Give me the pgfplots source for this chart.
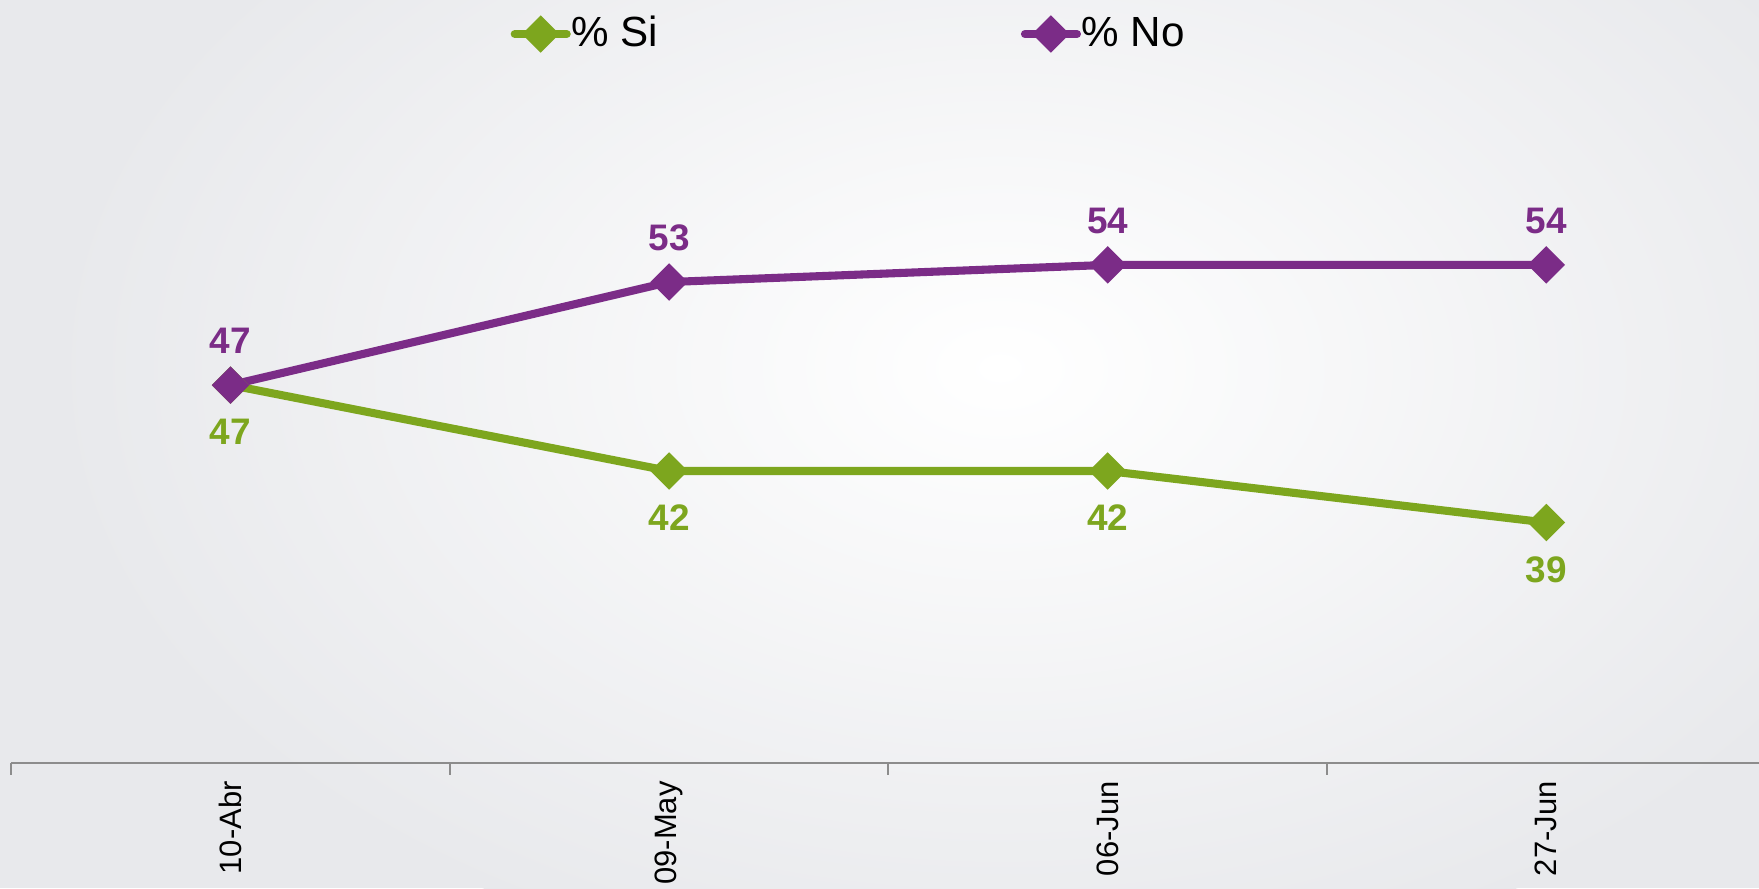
\documentclass[border=0pt]{standalone}
\usepackage{fontspec}
\setmainfont{Liberation Sans}
\usepackage{pgfplots}
\pgfplotsset{compat=1.18}
\definecolor{cSi}{HTML}{7DA61E}
\definecolor{cNo}{HTML}{7B2C87}
\definecolor{cBg}{HTML}{E8E9EC}
\definecolor{cAx}{HTML}{8C8C8C}
\begin{document}
\begin{tikzpicture}
% background with light radial glow
\fill[cBg] (0,0) rectangle (17.59cm,8.88cm);
\shade[inner color=white,outer color=cBg] (10.0cm,5.2cm) ellipse (9.5cm and 6.2cm);
\begin{axis}[
    at={(0.112cm,1.25cm)},anchor=south west,
    scale only axis,width=17.544cm,height=7.63cm,
    xmin=-0.5,xmax=3.5,ymin=25,ymax=69.42,
    axis x line*=bottom,axis y line=none,
    axis line style={cAx,line width=0.6pt},
    xtick={0,1,2,3},
    xticklabels={10-Abr,09-May,06-Jun,27-Jun},
    major tick length=0pt,
    xticklabel style={rotate=90,anchor=east,font=\fontsize{8.8}{10}\selectfont},
    xticklabel shift=0.6mm,
    extra x ticks={-0.5,0.5,1.5,2.5,3.5},
    extra x tick labels={},
    extra x tick style={major tick length=1.15mm,tick align=outside,
        tick style={cAx,line width=0.6pt}},
    clip=false,
    /pgf/number format/assume math mode=true,
    nodes near coords,
    legend columns=2,
    legend style={at={(rel axis cs:0.2843,0.9554)},anchor=west,
        draw=none,fill=none,inner sep=0pt,
        font=\fontsize{12}{14}\selectfont,
        nodes={inner sep=0.2pt},
        /tikz/every even column/.append style={column sep=3.62cm}},
    legend image code/.code={
        \draw[#1,mark repeat=2,mark phase=2]
        plot coordinates {(0.02cm,0cm) (0.28cm,0cm) (0.54cm,0cm)};},
  ]
\addplot[color=cSi,line width=2.3pt,line cap=round,mark=diamond*,mark size=3.7pt,
    mark options={xscale=1.333,solid},
    every node near coord/.append style={anchor=center,yshift=-4.7mm,
        text=cSi,font=\fontsize{10.5}{12}\selectfont\bfseries}]
  coordinates {(0,47) (1,42) (2,42) (3,39)};
\addlegendentry{\% Si}
\addplot[color=cNo,line width=2.3pt,line cap=round,mark=diamond*,mark size=3.7pt,
    mark options={xscale=1.333,solid},
    every node near coord/.append style={anchor=center,yshift=4.4mm,
        text=cNo,font=\fontsize{10.5}{12}\selectfont\bfseries}]
  coordinates {(0,47) (1,53) (2,54) (3,54)};
\addlegendentry{\% No}
\end{axis}
\pgfresetboundingbox
\useasboundingbox (0,0) rectangle (17.59cm,8.88cm);
\end{tikzpicture}
\end{document}
